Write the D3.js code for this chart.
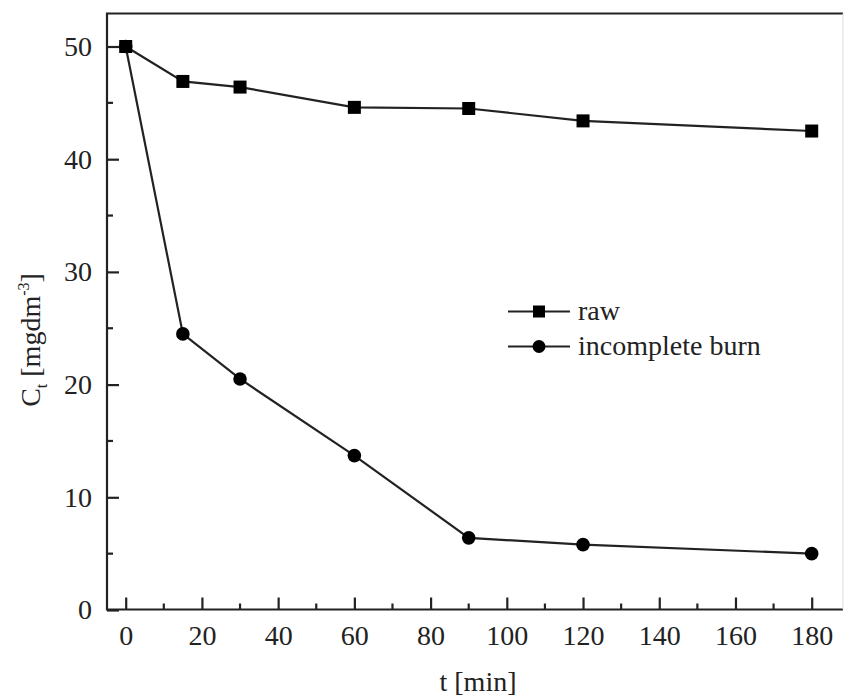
<!DOCTYPE html>
<html><head><meta charset="utf-8">
<script src="https://cdn.jsdelivr.net/npm/d3@7"></script>
<style>
html,body{margin:0;padding:0;background:#fff;}
text{font-family:"Liberation Serif","Times New Roman",serif;fill:#222;}
</style></head>
<body>
<svg id="c" width="844" height="697"></svg>
<script>
const times = [0, 15, 30, 60, 90, 120, 180];
const rawValues = [50, 46.9, 46.4, 44.6, 44.5, 43.4, 42.5];
const burnValues = [50, 24.5, 20.5, 13.7, 6.4, 5.8, 5.0];
const seriesNames = ["raw", "incomplete burn"];
const xTicks = [0, 20, 40, 60, 80, 100, 120, 140, 160, 180];
const yTicks = [0, 10, 20, 30, 40, 50];

const FS = 28;
const svg = d3.select("#c");
const L = 107, R = 843, T = 13.5, B = 609.5;
const x = d3.scaleLinear().domain([0, 180]).range([125.7, 811.7]);
const y = d3.scaleLinear().domain([0, 50]).range([610, 46.5]);

// frame
svg.append("path")
  .attr("d", `M${R},${T} H${L} V${B} H${R}`)
  .attr("fill", "none").attr("stroke", "#222").attr("stroke-width", 2.2);
svg.append("line").attr("x1", R).attr("x2", R).attr("y1", T).attr("y2", B)
  .attr("stroke", "#ddd").attr("stroke-width", 1);

// x axis
const xAxis = d3.axisBottom(x).tickValues(xTicks).tickSize(-12).tickPadding(21).tickFormat(d3.format("d"));
const gx = svg.append("g").attr("transform", `translate(0,${B})`).call(xAxis);
gx.select(".domain").remove();
gx.selectAll(".tick line").attr("stroke", "#222").attr("stroke-width", 2.2);
gx.selectAll(".tick text").attr("font-size", FS).attr("font-family", "Liberation Serif").attr("fill", "#222").attr("dy", "0.5em");
const xMinor = d3.range(10, 190, 20);
svg.append("g").selectAll("line").data(xMinor).join("line")
  .attr("x1", d => x(d)).attr("x2", d => x(d)).attr("y1", B).attr("y2", B - 6)
  .attr("stroke", "#222").attr("stroke-width", 2.2);

// y axis
const yAxis = d3.axisLeft(y).tickValues(yTicks).tickSize(-12).tickPadding(15).tickFormat(d3.format("d"));
const gy = svg.append("g").attr("transform", `translate(${L},0)`).call(yAxis);
gy.select(".domain").remove();
gy.selectAll(".tick line").attr("stroke", "#222").attr("stroke-width", 2.2);
gy.selectAll(".tick text").attr("font-size", FS).attr("font-family", "Liberation Serif").attr("fill", "#222");
const yMinor = d3.range(5, 55, 10);
svg.append("g").selectAll("line").data(yMinor).join("line")
  .attr("x1", L).attr("x2", L + 6).attr("y1", d => y(d)).attr("y2", d => y(d))
  .attr("stroke", "#222").attr("stroke-width", 2.2);

// axis titles
svg.append("text").attr("x", 478).attr("y", 691).attr("text-anchor", "middle")
  .attr("font-size", FS).text("t [min]");
const yt = svg.append("text").attr("transform", "translate(40,340) rotate(-90)")
  .attr("text-anchor", "middle").attr("font-size", FS);
yt.append("tspan").text("C");
yt.append("tspan").attr("font-size", 16).attr("dy", 7).text("t");
yt.append("tspan").attr("dy", -7).text(" [mgdm");
yt.append("tspan").attr("font-size", 16).attr("dy", -11).text("-3");
yt.append("tspan").attr("dy", 11).text("]");

// lines
const line = d3.line().x((d, i) => x(times[i])).y(d => y(d));
const raw = rawValues, burn = burnValues;
svg.append("path").attr("d", line(burn)).attr("fill", "none").attr("stroke", "#222").attr("stroke-width", 2.2);
svg.append("path").attr("d", line(raw)).attr("fill", "none").attr("stroke", "#222").attr("stroke-width", 2.2);

const sq = 13;
svg.append("g").selectAll("rect").data(raw).join("rect")
  .attr("x", (d, i) => x(times[i]) - sq / 2).attr("y", d => y(d) - sq / 2)
  .attr("width", sq).attr("height", sq).attr("fill", "#000");
svg.append("g").selectAll("circle").data(burn).join("circle")
  .attr("cx", (d, i) => x(times[i])).attr("cy", d => y(d)).attr("r", 6.8).attr("fill", "#000");

// legend
const lg = svg.append("g");
const ly = [311.5, 346.5];
seriesNames.forEach((name, i) => {
  lg.append("line").attr("x1", 508).attr("x2", 570).attr("y1", ly[i]).attr("y2", ly[i])
    .attr("stroke", "#222").attr("stroke-width", 2.2);
  if (i === 0) {
    lg.append("rect").attr("x", 539 - 6).attr("y", ly[i] - 6).attr("width", 12).attr("height", 12).attr("fill", "#000");
  } else {
    lg.append("circle").attr("cx", 539).attr("cy", ly[i]).attr("r", 6.5).attr("fill", "#000");
  }
  lg.append("text").attr("x", 578).attr("y", ly[i]).attr("dy", "0.32em")
    .attr("font-size", FS).text(name);
});
</script>
</body></html>
